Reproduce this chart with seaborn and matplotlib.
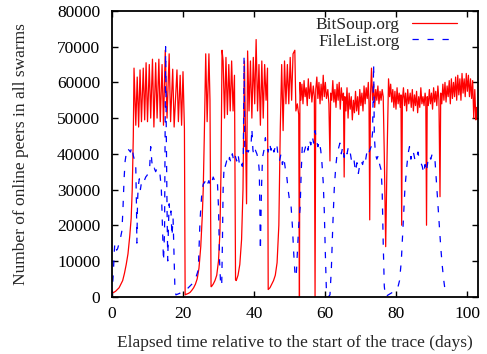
import matplotlib

matplotlib.use("Agg")
import matplotlib.pyplot as plt
import pandas as pd
import seaborn as sns

# BitSoup.org: online peers over time (days, peers)
red_day = [
    0.0, 0.5, 1.0, 1.5, 2.0, 2.5, 3.0, 3.5, 4.0, 4.5, 5.0, 5.4, 5.7, 6.0, 6.2,
    6.7, 7.1, 7.5, 7.9, 8.3, 8.8, 9.2, 9.6, 10.0, 10.5, 10.9, 11.4, 11.8, 12.3,
    12.7, 13.2, 13.6, 14.1, 14.5, 15.0, 15.5, 16.1, 16.5, 17.1, 17.5, 18.3,
    18.7, 19.2, 19.6, 20.0, 20.4, 20.6,
    21.0, 21.5, 22.0, 22.5, 23.0, 23.5, 24.0, 24.5, 25.0, 25.4, 25.7, 26.0,
    26.4, 26.8, 27.3, 27.6, 27.9,
    28.0, 28.5, 29.0, 29.5, 30.0, 30.4, 30.7, 31.0, 31.3, 31.7, 32.1, 32.5,
    32.9, 33.3, 33.7, 34.1, 34.5, 34.8,
    35.0, 35.5, 36.0, 36.5, 36.9, 37.3, 37.6, 37.9, 38.2, 38.6, 39.0, 39.4,
    39.8, 40.2, 40.6, 41.0, 41.4, 41.8, 42.2, 42.6, 43.0, 43.4, 43.8, 44.0,
    44.5, 45.0, 45.5, 46.0, 46.5, 47.0, 47.4, 47.8, 48.2, 48.6, 49.0, 49.4,
    49.8, 50.2, 50.6, 51.0, 51.5, 51.8, 52.2, 52.6, 52.8,
    52.95, 53.2, 53.5, 53.8, 54.1, 54.4, 54.7, 55.0, 55.3, 55.6, 56.0, 56.3,
    56.7, 57.0, 57.2, 57.4, 57.7, 58.0, 58.3, 58.6, 58.9, 59.2, 59.5, 59.8,
    60.1, 60.4, 60.8, 61.1, 61.4, 61.6, 61.9, 62.2, 62.5, 62.8, 63.1, 63.4,
    63.7, 64.0, 64.3, 64.6, 64.9, 65.2, 65.4, 65.6, 65.9, 66.2, 66.5, 66.8,
    67.1, 67.4, 67.7, 68.0, 68.3, 68.6, 68.9, 69.2, 69.5, 69.8, 70.1, 70.4,
    70.7, 71.0, 71.3, 71.6, 71.9, 72.2, 72.4, 72.6, 72.8, 73.1, 73.4, 73.7,
    74.0, 74.3, 74.6, 74.9, 75.2, 75.5, 75.8, 76.1, 76.4, 76.7, 77.1, 77.5,
    77.9, 78.2, 78.5, 78.8, 79.1, 79.4, 79.7, 80.0, 80.3, 80.6, 80.9, 81.2,
    81.4, 81.6, 81.8, 82.1, 82.4, 82.7, 83.0, 83.3, 83.6, 84.0, 84.3, 84.6,
    84.9, 85.2, 85.5, 85.8, 86.1, 86.4, 86.7, 87.0, 87.3, 87.6, 87.9, 88.2,
    88.4, 88.6, 88.8, 89.1, 89.4, 89.7, 90.0, 90.3, 90.6, 90.9, 91.2, 91.5,
    91.8, 92.1, 92.4, 92.6, 92.9, 93.2, 93.5, 93.8, 94.1, 94.4, 94.7, 95.0,
    95.3, 95.6, 95.9, 96.2, 96.5, 96.8, 97.1, 97.4, 97.7, 98.0, 98.3, 98.6,
    98.9, 99.2, 99.5, 99.8, 100.1, 100.4, 100.7, 101.0, 101.3, 101.6, 101.9,
    102.2, 102.5, 102.7,
]
red_peers = [
    1000, 1200, 1500, 2000, 2500, 3500, 4500, 6500, 9000, 12000, 17000, 22000, 30000, 45000, 64000,
    48000, 61500, 47500, 63500, 49000, 64000, 49500, 65500, 49000, 65000, 50000, 66500, 47500, 65500,
    50000, 66500, 49000, 65000, 48000, 69000, 50000, 68000, 49000, 63700, 47500, 63500,
    49000, 62000, 48000, 63000, 47000, 500,
    700, 900, 1200, 1800, 2500, 3500, 5000, 8000, 14000, 22000, 30000, 45000,
    68000, 49000, 68000, 55000, 2800,
    2800, 3500, 4500, 6000, 10000, 18000, 35000, 69000, 66000, 50000, 67000, 51000,
    65000, 52000, 66000, 52000, 62000, 4700,
    4500, 6000, 9000, 16000, 30000, 66000, 45000, 26000, 68800, 52000, 66000, 50000,
    67000, 54000, 72000, 52000, 65000, 48000, 66000, 50000, 65000, 55000, 64000, 2000,
    2500, 3500, 4500, 6000, 9500, 20000, 47000, 65000, 46500, 66000, 54000, 65000,
    54000, 67000, 55000, 68000, 69000, 52000, 54000, 51000, 0,
    60000, 55000, 59500, 54000, 60500, 56000, 58500, 53500, 61000, 55500, 60000, 54500,
    59000, 56000, 0, 58000, 61500, 55500, 60000, 54000, 59500, 55000, 62000, 56000,
    60000, 55500, 58000, 54000, 38000, 57000, 55000, 60500, 54500, 58000, 53000, 59500,
    55000, 60000, 52500, 58500, 55000, 57000, 33500, 56000, 52000, 58500, 50000, 57000,
    52500, 56000, 49500, 55000, 51500, 57500, 52000, 56000, 51000, 58000, 53500, 57000,
    52000, 59000, 54000, 58500, 55500, 60000, 54000, 21500, 56000, 64000, 55000, 59500,
    53000, 58000, 55000, 59000, 54000, 57500, 55000, 58000, 56000, 40000, 14000, 40000,
    61000, 56000, 59500, 54500, 58000, 53000, 57500, 52500, 58500, 54000, 57000, 53000,
    56500, 20000, 55000, 58500, 53500, 57000, 52000, 58000, 54000, 57000, 53000, 58000,
    52000, 56500, 53500, 57500, 51500, 56000, 53000, 58500, 54000, 56000, 53500, 57000,
    55000, 20000, 56000, 53500, 58000, 54000, 57000, 52500, 58500, 54500, 57500, 53500,
    59000, 55000, 28000, 57000, 54000, 59500, 55000, 60000, 54500, 59000, 56000, 60500,
    54000, 61000, 55500, 60000, 56000, 61500, 55000, 62000, 56500, 61000, 55000, 62500,
    57000, 61000, 56000, 62500, 57500, 62000, 56000, 61000, 55500, 60500, 50000,
    58000, 49500, 53000,
]

# FileList.org: online peers over time (days, peers)
blue_day = [
    0.0, 0.2, 0.4, 0.6, 0.8, 1.0, 1.3, 1.6, 2.0, 2.4, 2.8, 3.1, 3.4, 3.7, 4.0,
    4.4, 4.8, 5.2, 5.6, 6.0, 6.4, 6.7, 6.9, 7.0, 7.2, 7.4, 7.7, 8.0, 8.3, 8.7,
    9.1, 9.5, 9.9, 10.3, 10.6, 10.9, 11.2, 11.5, 11.9, 12.3, 12.7, 13.1, 13.5,
    13.9, 14.2, 14.5, 14.8, 15.1, 15.3, 15.5, 15.7, 15.9, 16.1, 16.3, 16.6,
    16.9, 17.2, 17.5, 17.7, 18.0, 18.5, 19.0, 19.5, 20.0, 20.5, 21.0, 21.5,
    22.0, 22.5, 23.0, 23.5, 24.0, 24.3, 24.8, 25.3, 25.7, 26.1, 26.5, 26.9,
    27.3, 27.7, 28.1, 28.5, 28.9, 29.3, 29.7, 30.0, 30.3, 30.6, 30.9, 31.1,
    31.3, 31.6, 31.9, 32.3, 32.7, 33.1, 33.5, 33.9, 34.3, 34.7, 35.1, 35.5,
    35.9, 36.3, 36.7, 37.0, 37.2, 37.4, 37.7, 38.0, 38.4, 38.8, 39.2, 39.4,
    39.7, 40.0, 40.4, 40.8, 41.2, 41.5, 41.8, 42.1, 42.4, 42.8, 43.2, 43.6,
    44.0, 44.4, 44.8, 45.2, 45.6, 46.0, 46.4, 46.8, 47.2, 47.6, 48.0, 48.4,
    48.8, 49.2, 49.6, 50.0, 50.4, 50.8, 51.2, 51.6, 51.9, 52.2, 52.6, 53.0,
    53.3, 53.6, 54.0, 54.4, 54.8, 55.2, 55.6, 56.0, 56.4, 56.8, 57.2, 57.6,
    58.0, 58.4, 58.8, 59.1, 59.5, 59.8, 60.1, 60.4, 60.7, 61.0, 61.4, 61.8,
    62.2, 62.6, 63.0, 63.4, 63.8, 64.2, 64.6, 65.0, 65.4, 65.8, 66.2, 66.6,
    67.0, 67.4, 67.8, 68.2, 68.6, 69.0, 69.4, 69.8, 70.2, 70.6, 71.0, 71.4,
    71.8, 72.2, 72.6, 73.0, 73.4, 73.7, 73.9, 74.2, 74.6, 75.0, 75.4, 75.8,
    76.1, 76.4, 76.7, 77.0, 77.5, 78.0, 78.5, 79.0, 79.5, 80.0, 80.5, 81.0,
    81.5, 82.0, 82.5, 83.0, 83.4, 83.8, 84.2, 84.6, 85.0, 85.4, 85.8, 86.2,
    86.6, 87.0, 87.4, 87.8, 88.2, 88.6, 89.0, 89.4, 89.8, 90.2, 90.6, 91.0,
    91.4, 91.8, 92.2, 92.6, 93.0, 93.4, 93.8, 94.2,
]
blue_peers = [
    0, 4000, 7000, 12000, 15000, 14000, 13000, 13500, 15000, 16500, 18500, 25000, 33000, 38000, 40000,
    41500, 41000, 40500, 42000, 39500, 38000, 36000, 25000, 15000, 27000, 31000, 33000, 30000, 32000, 33000,
    32500, 33500, 34000, 35000, 36000, 42000, 38000, 35500, 36000, 35000, 36000, 35500, 34500,
    30000, 20000, 10000, 18000, 70000, 45000, 25000, 10000, 20000, 26000, 23000, 24000,
    17000, 22000, 10000, 3000, 500, 700, 900, 1200, 1400, 1800, 2000, 2500,
    3000, 3500, 4000, 5000, 6500, 7500, 21500, 29000, 31500, 32000, 33000, 31500,
    32500, 31000, 32000, 33500, 32500, 33000, 32000, 25000, 10000, 3500, 3000, 15000,
    30000, 37000, 36500, 38000, 37000, 39000, 37500, 40000, 38000, 39500, 38000, 40000,
    37000, 38000, 36500, 40000, 67000, 42000, 40000, 41000, 40500, 42000, 43000, 47000,
    41000, 39500, 41000, 40000, 38500, 35000, 13000, 30000, 39000, 41000, 44500, 42000,
    40500, 43000, 41000, 42500, 40500, 42000, 43000, 39000, 38000, 40000, 37000, 39000,
    36000, 34000, 30000, 27000, 26000, 20000, 12000, 5500, 6000, 12000, 20000, 25000,
    35000, 42000, 40000, 41500, 43000, 41000, 44000, 42500, 45000, 43000, 46500, 44000,
    42000, 43500, 41000, 38000, 32000, 24000, 12000, 1500, 0, 0, 500, 8000,
    20000, 30000, 36000, 40000, 41500, 43000, 40000, 42000, 39000, 41000, 40000, 42000,
    41000, 38500, 37000, 38000, 35000, 37500, 34500, 37000, 38000, 37000, 39000, 38000,
    40500, 39500, 41000, 42000, 46000, 65000, 45000, 40000, 38500, 39500, 37000, 35500,
    30000, 15000, 3000, 0, 300, 600, 900, 1200, 1500, 1800, 2500, 4500,
    10000, 20000, 30000, 36000, 40000, 42000, 38500, 41000, 40000, 38000, 39000, 40500,
    38000, 37500, 36500, 34500, 37000, 35000, 38000, 39500, 38500, 40000, 39000, 38000,
    32000, 26000, 20000, 14000, 9000, 5000, 2000, 500,
]

red = pd.DataFrame({"day": red_day, "peers": red_peers})
blue = pd.DataFrame({"day": blue_day, "peers": blue_peers})

sns.set_theme(style="ticks")
plt.rcParams["font.family"] = ["Liberation Serif", "DejaVu Serif"]
plt.rcParams["axes.linewidth"] = 1.3

fig = plt.figure(figsize=(4.87, 3.54), dpi=100)
ax = fig.add_axes([0.23, 0.162, 0.7515, 0.807])

sns.lineplot(data=red, x="day", y="peers", sort=False, estimator=None,
             color="#ff0000", linewidth=0.9, label="BitSoup.org", ax=ax)
sns.lineplot(data=blue, x="day", y="peers", sort=False, estimator=None,
             color="#0000ff", linewidth=0.9, dashes=False, label="FileList.org", ax=ax)
ax.lines[1].set_dashes([5, 7])

ax.set_xlim(0, 103.1)
ax.set_ylim(0, 80000)
ax.set_xticks(range(0, 101, 20))
ax.set_yticks(range(0, 80001, 10000))
ax.tick_params(direction="in", top=True, right=True, length=4.5, width=1.0,
               labelsize=12.5, colors="black", pad=7)
ax.tick_params(axis="y", pad=8.5)
for s in ax.spines.values():
    s.set_visible(True)
    s.set_color("black")

ax.set_xlabel("Elapsed time relative to the start of the trace (days)", fontsize=12.5, labelpad=9)
ax.set_ylabel("Number of online peers in all swarms", fontsize=12.5, labelpad=20)

leg = ax.legend(loc="upper right", bbox_to_anchor=(0.943, 0.978), frameon=False,
                markerfirst=False, handlelength=2.6, handletextpad=0.7,
                labelspacing=0.0, borderpad=0, borderaxespad=0, fontsize=12.5)
leg.get_lines()[1].set_dashes([5, 7])

fig.savefig("out.png", dpi=100)
